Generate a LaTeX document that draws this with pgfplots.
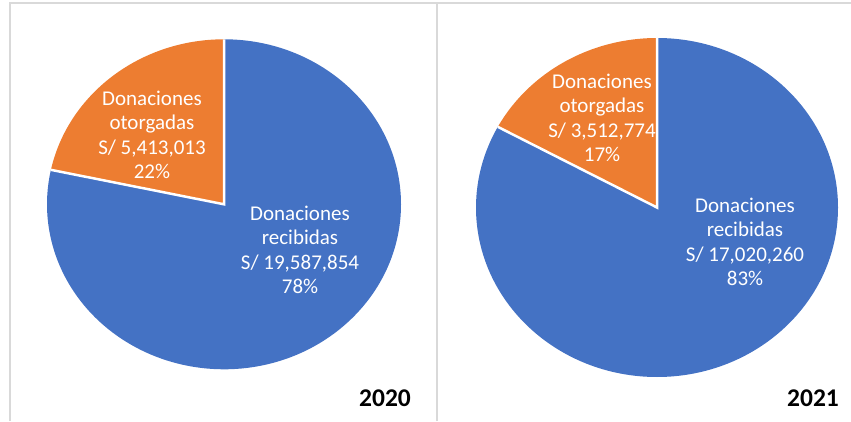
\documentclass[border=0pt]{standalone}
\usepackage{pgfplots}
\pgfplotsset{compat=1.18}
\usepackage{pgfplotstable}
\usepackage{fontspec}
\setmainfont{Carlito}
\definecolor{pblue}{HTML}{4472C4}
\definecolor{porange}{HTML}{ED7D31}
\definecolor{frame}{HTML}{D9D9D9}
\tikzset{lab/.style={text=white,align=center,font=\fontsize{21}{24.5}\selectfont,inner sep=0pt}}
\pgfplotstableread{
year otorgadas recibidas
2020 5413013 19587854
2021 3512774 17020260
}\donaciones
\pgfplotstablegetelem{0}{otorgadas}\of\donaciones \let\oA\pgfplotsretval
\pgfplotstablegetelem{0}{recibidas}\of\donaciones \let\rA\pgfplotsretval
\pgfplotstablegetelem{1}{otorgadas}\of\donaciones \let\oB\pgfplotsretval
\pgfplotstablegetelem{1}{recibidas}\of\donaciones \let\rB\pgfplotsretval
\edef\angA{\fpeval{360*\oA/(\oA+\rA)}}
\edef\angB{\fpeval{360*\oB/(\oB+\rB)}}
\edef\endA{\fpeval{90+\angA}}
\edef\endB{\fpeval{90+\angB}}
\begin{document}
\begin{tikzpicture}
\begin{axis}[scale only axis,width=851pt,height=421pt,
  xmin=0,xmax=851,ymin=0,ymax=421,hide axis,clip=false]
% frames
\draw[frame,line width=2pt] (axis cs:10,0) -- (axis cs:10,418) -- (axis cs:851,418);
\draw[frame,line width=2pt] (axis cs:437,0) -- (axis cs:437,418);
% 2020 pie: centre (224,216.7), radii 177 x 165
\fill[porange] (axis cs:224,216.7) -- (axis cs:224,381.7) arc[start angle=90,delta angle=\angA,x radius=177pt,y radius=165pt] -- cycle;
\fill[pblue] (axis cs:224,216.7) -- (axis cs:224,381.7) arc[start angle=90,delta angle={\angA-360},x radius=177pt,y radius=165pt] -- cycle;
\draw[white,line width=2.5pt] (axis cs:224,381.7) -- (axis cs:224,216.7) -- (axis cs:{224+177*cos(\endA)},{216.7+165*sin(\endA)});
% 2021 pie: centre (657,213.5), radii 181 x 169.5
\fill[porange] (axis cs:657,213.5) -- (axis cs:657,383) arc[start angle=90,delta angle=\angB,x radius=181pt,y radius=169.5pt] -- cycle;
\fill[pblue] (axis cs:657,213.5) -- (axis cs:657,383) arc[start angle=90,delta angle={\angB-360},x radius=181pt,y radius=169.5pt] -- cycle;
\draw[white,line width=2.5pt] (axis cs:657,383) -- (axis cs:657,213.5) -- (axis cs:{657+181*cos(\endB)},{213.5+169.5*sin(\endB)});
% labels
\node[lab] at (axis cs:152,286) {Donaciones\\otorgadas\\S/ 5,413,013\\22\%};
\node[lab] at (axis cs:300,171) {Donaciones\\recibidas\\S/ 19,587,854\\78\%};
\node[lab] at (axis cs:602,303) {Donaciones\\otorgadas\\S/ 3,512,774\\17\%};
\node[lab] at (axis cs:745,179) {Donaciones\\recibidas\\S/ 17,020,260\\83\%};
\node[font=\fontsize{25.5}{28}\selectfont\bfseries,inner sep=0pt] at (axis cs:385,23) {2020};
\node[font=\fontsize{25.5}{28}\selectfont\bfseries,inner sep=0pt] at (axis cs:813,23) {2021};
\end{axis}
\pgfresetboundingbox
\useasboundingbox (0,0) rectangle (851pt,421pt);
\end{tikzpicture}
\end{document}
